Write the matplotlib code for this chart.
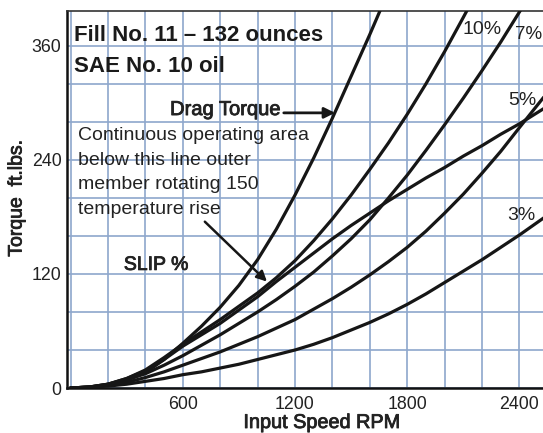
import matplotlib
matplotlib.use('Agg')
import matplotlib.pyplot as plt
import matplotlib.patheffects as pe

plt.rcParams['font.family'] = ['Liberation Sans', 'DejaVu Sans']

# valores (RPM de entrada, par en ft.lbs.)
rpm = [0, 100, 200, 300, 400, 500, 600, 700, 800, 900, 1000, 1100, 1200,
       1300, 1400, 1500, 1600, 1700, 1800, 1900, 2000, 2100, 2200, 2300, 2400]

drag_rpm = rpm[:17] + [1670]
drag_par = [0, 0.5, 3, 8, 16, 30, 47, 65, 85, 108, 135, 167, 203, 242, 284,
            328, 372, 404]

rpm_10 = rpm[:22] + [2130]
par_10 = [0, 1, 4, 10, 19, 32, 46, 59, 72, 86, 100, 116, 134, 155, 178, 203,
          230, 258, 288, 320, 354, 390, 401]

rpm_7 = rpm[:24] + [2420]
par_7 = [0, 1, 4, 9, 15, 24, 34, 45, 56, 68, 80, 93, 107, 122, 139, 157, 177,
         200, 224, 250, 277, 305, 334, 364, 402]

rpm_5 = rpm + [2530]
par_5 = [0, 1, 3, 6, 11, 17, 24, 31, 38, 46, 54, 63, 72, 83, 94, 106, 119,
         133, 148, 165, 184, 204, 226, 249, 274, 306]

rpm_3 = rpm + [2530]
par_3 = [0, 1, 2, 4, 7, 10, 14, 17, 21, 25, 30, 35, 40, 46, 53, 61, 69, 78,
         88, 99, 111, 123, 135, 148, 161, 179]

# limite de operacion continua
rpm_lim = rpm + [2530]
par_lim = [0, 1, 4, 10, 18, 30, 44, 56, 68, 82, 96, 112, 127, 142, 157, 171,
           184, 197, 209, 221, 232, 244, 255, 267, 278, 294]

x_grid = list(range(0, 2600, 200))
y_grid = list(range(0, 400, 40))
x_etiq = [600, 1200, 1800, 2400]
y_etiq = [0, 120, 240, 360]

fig = plt.figure(figsize=(5.43, 4.33), dpi=100)
ax = fig.add_axes([0.1234, 0.1039, 0.8766, 0.8714])
ax.set_xlim(-19, 2526)
ax.set_ylim(0, 397)

ax.set_xticks(x_grid, labels=[str(v) if v in x_etiq else '' for v in x_grid])
ax.set_yticks(y_grid, labels=[str(v) if v in y_etiq else '' for v in y_grid])
ax.tick_params(length=0, labelsize=12.8, colors='#222222')
ax.tick_params(axis='x', pad=6)
ax.tick_params(axis='y', pad=4)
ax.grid(True, color='#8ea7cc', lw=1.2, zorder=0)
ax.set_axisbelow(True)

for s in ['left', 'bottom']:
    ax.spines[s].set_linewidth(1.8)
    ax.spines[s].set_color('#111111')
ax.spines['top'].set_linewidth(1.2)
ax.spines['top'].set_color('#333333')
ax.spines['right'].set_visible(False)

negro = '#161616'
for xs, ys in [(drag_rpm, drag_par), (rpm_10, par_10), (rpm_7, par_7),
               (rpm_5, par_5), (rpm_3, par_3), (rpm_lim, par_lim)]:
    ax.plot(xs, ys, color=negro, lw=2.3, solid_joinstyle='round',
            solid_capstyle='round', zorder=3)

medio = [pe.withStroke(linewidth=0.6, foreground='#222222')]

ax.text(18, 371, 'Fill No. 11 – 132 ounces', fontsize=16, fontweight='bold',
        va='center', color='#1a1a1a')
ax.text(18, 338, 'SAE No. 10 oil', fontsize=16, fontweight='bold',
        va='center', color='#1a1a1a')

ax.text(532, 293, 'Drag Torque', fontsize=14.5, va='center', color='#222222',
        path_effects=medio)
ax.annotate('', xy=(1414, 289.5), xytext=(1140, 289.5),
            arrowprops=dict(arrowstyle='-|>', color=negro, lw=2,
                            mutation_scale=16, shrinkA=0, shrinkB=0))

lineas = ['Continuous operating area', 'below this line outer',
          'member rotating 150', 'temperature rise']
for i, t in enumerate(lineas):
    ax.text(40, 261 - i * 26, t, fontsize=14, va='baseline', color='#222222')
ax.annotate('', xy=(1050, 112), xytext=(718, 175),
            arrowprops=dict(arrowstyle='-|>', color=negro, lw=1.8,
                            mutation_scale=15, shrinkA=0, shrinkB=0))

ax.text(285, 129, 'SLIP %', fontsize=14, va='center', color='#222222',
        path_effects=medio)

ax.text(2093, 377, '10%', fontsize=14, va='center', color='#222222')
ax.text(2375, 372, '7%', fontsize=13.5, va='center', color='#222222')
ax.text(2338, 303, '5%', fontsize=14, va='center', color='#222222')
ax.text(2334, 181, '3%', fontsize=14, va='center', color='#222222')

fig.text(322 / 543, 1 - 422.5 / 433, 'Input Speed RPM', fontsize=14.3,
         ha='center', va='center', color='#222222', path_effects=medio)
fig.text(17 / 543, 1 - 198 / 433, 'Torque  ft.lbs.', fontsize=14,
         rotation=90, ha='center', va='center', color='#222222',
         path_effects=medio)

fig.savefig('out.png', dpi=100)
